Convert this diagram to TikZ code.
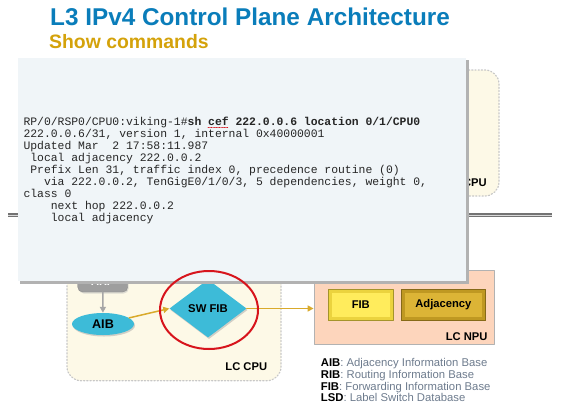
\documentclass[tikz,border=0pt]{standalone}
\usepackage{fontspec}
\setmainfont{Liberation Sans}
\setmonofont{Liberation Mono}
\usetikzlibrary{shapes.geometric, arrows.meta, shadows}
\definecolor{titleblue}{HTML}{0A7DBA}
\definecolor{subgold}{HTML}{D4A20A}
\definecolor{panelbg}{HTML}{F0F5F8}
\definecolor{cream}{HTML}{FDF9E7}
\definecolor{cyanfill}{HTML}{3DBBD8}
\definecolor{linkgold}{HTML}{D9AA2B}
\definecolor{ringred}{HTML}{D7141C}
\definecolor{npupeach}{HTML}{FDD5BC}
\definecolor{fibface}{HTML}{FFEC5C}
\definecolor{fibrim}{HTML}{EBD33E}
\definecolor{adjface}{HTML}{DCB436}
\definecolor{adjrim}{HTML}{BF9822}
\definecolor{legendgray}{HTML}{6D7B8D}
\tikzset{cpubox/.style = {draw=black!22, dotted, line width=1.2pt, fill=cream, rounded corners=14pt}}
\tikzset{bubble/.style = {fill=cyanfill, inner sep=0pt,
						 drop shadow={shadow xshift=1pt, shadow yshift=-1.5pt, fill=black!35},
						 font=\bfseries\fontsize{11.3}{13}\selectfont}}
\tikzset{link/.style = {draw=linkgold, line width=1.5pt, -{Triangle[length=6pt, width=6pt]}}}
\tikzset{bevelbox/.style n args = {2}{fill=#1, draw=#1!70!black, line width=0.6pt, inner sep=0pt,
						 font=\bfseries\fontsize{11.2}{13}\selectfont,
						 path picture={\fill[#2] ([shift={(3.5pt,-3.5pt)}]path picture bounding box.north west)
						 rectangle ([shift={(-3.5pt,3.5pt)}]path picture bounding box.south east);}
						 }
		}
\tikzset{legend/.style = {anchor=base west, inner sep=0pt, font=\fontsize{11.3}{13}\selectfont}}

\begin{document}
\begin{tikzpicture}[x=1pt, y=-1pt, line cap=round, line join=round]
		\useasboundingbox (0,0) rectangle (572,404);
		
		% Title
		\node[anchor=base west, inner sep=0pt, text=titleblue, font=\bfseries\fontsize{24.3}{28}\selectfont] (title) at (50,25.5) {L3 IPv4 Control Plane Architecture};
		\node[anchor=base west, inner sep=0pt, text=subgold, font=\bfseries\fontsize{19.4}{23}\selectfont] (subtitle) at (49,48.5) {Show commands};
		
		% Upper CPU box and divider
		\draw[cpubox] (300,70) rectangle (499,196);
		\node[anchor=base east, inner sep=0pt, font=\bfseries\fontsize{11.2}{13}\selectfont] (rpcpu) at (487,186) {CPU};
		\draw[black!55, line width=3.5pt, line cap=butt] (8,215) -- (552,215);
		\draw[black!15, line width=1pt, line cap=butt] (8,215) -- (552,215);
		
		% LC CPU
		\draw[cpubox] (67,262) rectangle (281,380.7);
		\node[anchor=base east, inner sep=0pt, font=\bfseries\fontsize{11.2}{13}\selectfont] (lccpu) at (267.3,370) {LC CPU};
		\node[fill=black!38, draw=black!45, rounded corners=5pt, minimum width=50pt, minimum height=21pt, inner sep=0pt,
			  text=white, font=\bfseries\fontsize{11}{13}\selectfont,
			  drop shadow={shadow xshift=1pt, shadow yshift=-1.5pt, fill=black!25}] (arp) at (102.7,281.5) {ARP};
		\node[bubble, ellipse, minimum width=62pt, minimum height=22pt] (aib) at (103,324) {\fontsize{12.6}{14}\selectfont AIB};
		\node[bubble, diamond, minimum width=77pt, minimum height=58pt] (swfib) at (208,308.5) {SW FIB};
		
		% LC NPU
		\node[fill=npupeach, draw=black!30, line width=0.8pt, minimum width=180pt, minimum height=74pt] (npu) at (404,307) {};
		\node[anchor=base east, inner sep=0pt, font=\bfseries\fontsize{11.2}{13}\selectfont] (lcnpu) at (487.7,340) {LC NPU};
		\node[bevelbox={fibrim}{fibface}, minimum width=65pt, minimum height=31.4pt] (fib) at (360.8,305) {FIB};
		\node[bevelbox={adjrim}{adjface}, minimum width=84.7pt, minimum height=31.4pt] (adj) at (443.4,305) {Adjacency};
		
		% Links
		\draw[black!35, line width=1.5pt, -{Triangle[length=6pt, width=6pt]}] (arp) -- (aib);
		\draw[link] (aib) -- (swfib.west);
		\draw[link] (swfib.east) -- (swfib.east -| npu.west);
		
		% Terminal panel
		\fill[black!30] (19.5,60) rectangle (468.5,283.5);
		\fill[panelbg] (17.5,58) rectangle (466,281);
		\node[anchor=base west, inner sep=0pt, align=left, text=black!85, font=\ttfamily\fontsize{11.4}{12.1}\selectfont] (cli) at (23.3,221.8)
			{RP/0/RSP0/CPU0:viking-1\#\textbf{sh cef 222.0.0.6 location 0/1/CPU0}\\
			 222.0.0.6/31, version 1, internal 0x40000001\\
			 Updated Mar\ \ 2 17:58:11.987\\
			 \mbox{}\ local adjacency 222.0.0.2\\
			 \mbox{}\ Prefix Len 31, traffic index 0, precedence routine (0)\\
			 \mbox{}\ \ \ via 222.0.0.2, TenGigE0/1/0/3, 5 dependencies, weight 0,\\
			 class 0\\
			 \mbox{}\ \ \ \ next hop 222.0.0.2\\
			 \mbox{}\ \ \ \ local adjacency};
		\draw[ringred, densely dotted, line width=0.6pt] (208,127.5) -- (228.5,127.5);
		
		% Highlight ring
		\draw[ringred, line width=2pt] (209,310) ellipse [x radius=49, y radius=39];
		
		% Legend
		\foreach \k/\t [count=\i] in {AIB/Adjacency Information Base, RIB/Routing Information Base,
									  FIB/Forwarding Information Base, LSD/Label Switch Database}
		{
			\node[legend] (leg\i) at (320.7,355+11.7*\i) {\textbf{\k}\textcolor{legendgray}{: \t}};
		}
\end{tikzpicture}
\end{document}
